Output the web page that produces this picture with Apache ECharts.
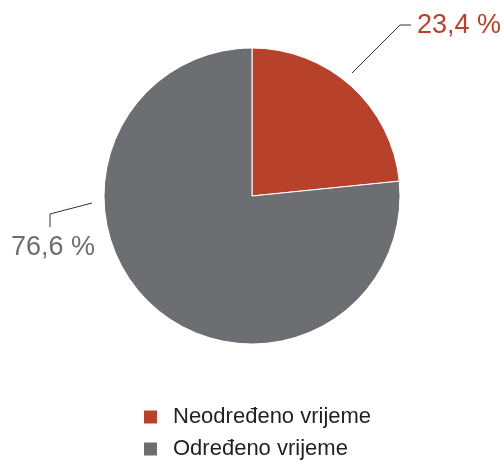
<!DOCTYPE html>
<html>
<head>
<meta charset="utf-8">
<script src="https://cdn.jsdelivr.net/npm/echarts@6/dist/echarts.min.js"></script>
<style>html,body{margin:0;padding:0;background:#fff;}#c{width:503px;height:460px;}</style>
</head>
<body>
<div id="c"></div>
<script>
const categories = ['Neodređeno vrijeme', 'Određeno vrijeme'];
const values = [23.4, 76.6];
const labelTexts = ['23,4 %', '76,6 %'];
const colors = ['#B8412B', '#6D6E71'];
const legendTops = [406, 438];

const chart = echarts.init(document.getElementById('c'), null, {renderer: 'canvas'});
chart.setOption({
  animation: false,
  textStyle: {fontFamily: 'Liberation Sans, Arial, sans-serif'},
  color: colors,
  legend: categories.map((c, i) => ({
    orient: 'vertical',
    left: 142,
    top: legendTops[i],
    padding: 0,
    itemWidth: 15,
    itemHeight: 15,
    icon: 'rect',
    textStyle: {fontSize: 22, lineHeight: 22, color: '#231F20', fontFamily: 'Liberation Sans, Arial, sans-serif', padding: [0,0,0,10]},
    data: [c]
  })),
  series: [{
    type: 'pie',
    center: [252, 196],
    radius: 148,
    startAngle: 90,
    clockwise: true,
    itemStyle: {borderColor: '#fff', borderWidth: 1},
    label: {
      show: true,
      fontSize: 27,
      formatter: p => labelTexts[p.dataIndex]
    },
    labelLine: {show: true, lineStyle: {color: '#333', width: 1}},
    labelLayout: function (params) {
      if (params.dataIndex === 0) {
        return {x: 417, y: 26, align: 'left', verticalAlign: 'middle',
          labelLinePoints: [[352, 73], [400, 25], [411, 25]]};
      }
      return {x: 11, y: 248, align: 'left', verticalAlign: 'middle',
        labelLinePoints: [[92, 203], [50, 214], [50, 227]]};
    },
    data: categories.map((n, i) => ({name: n, value: values[i],
      label: {color: colors[i]}}))
  }]
});
</script>
</body>
</html>
